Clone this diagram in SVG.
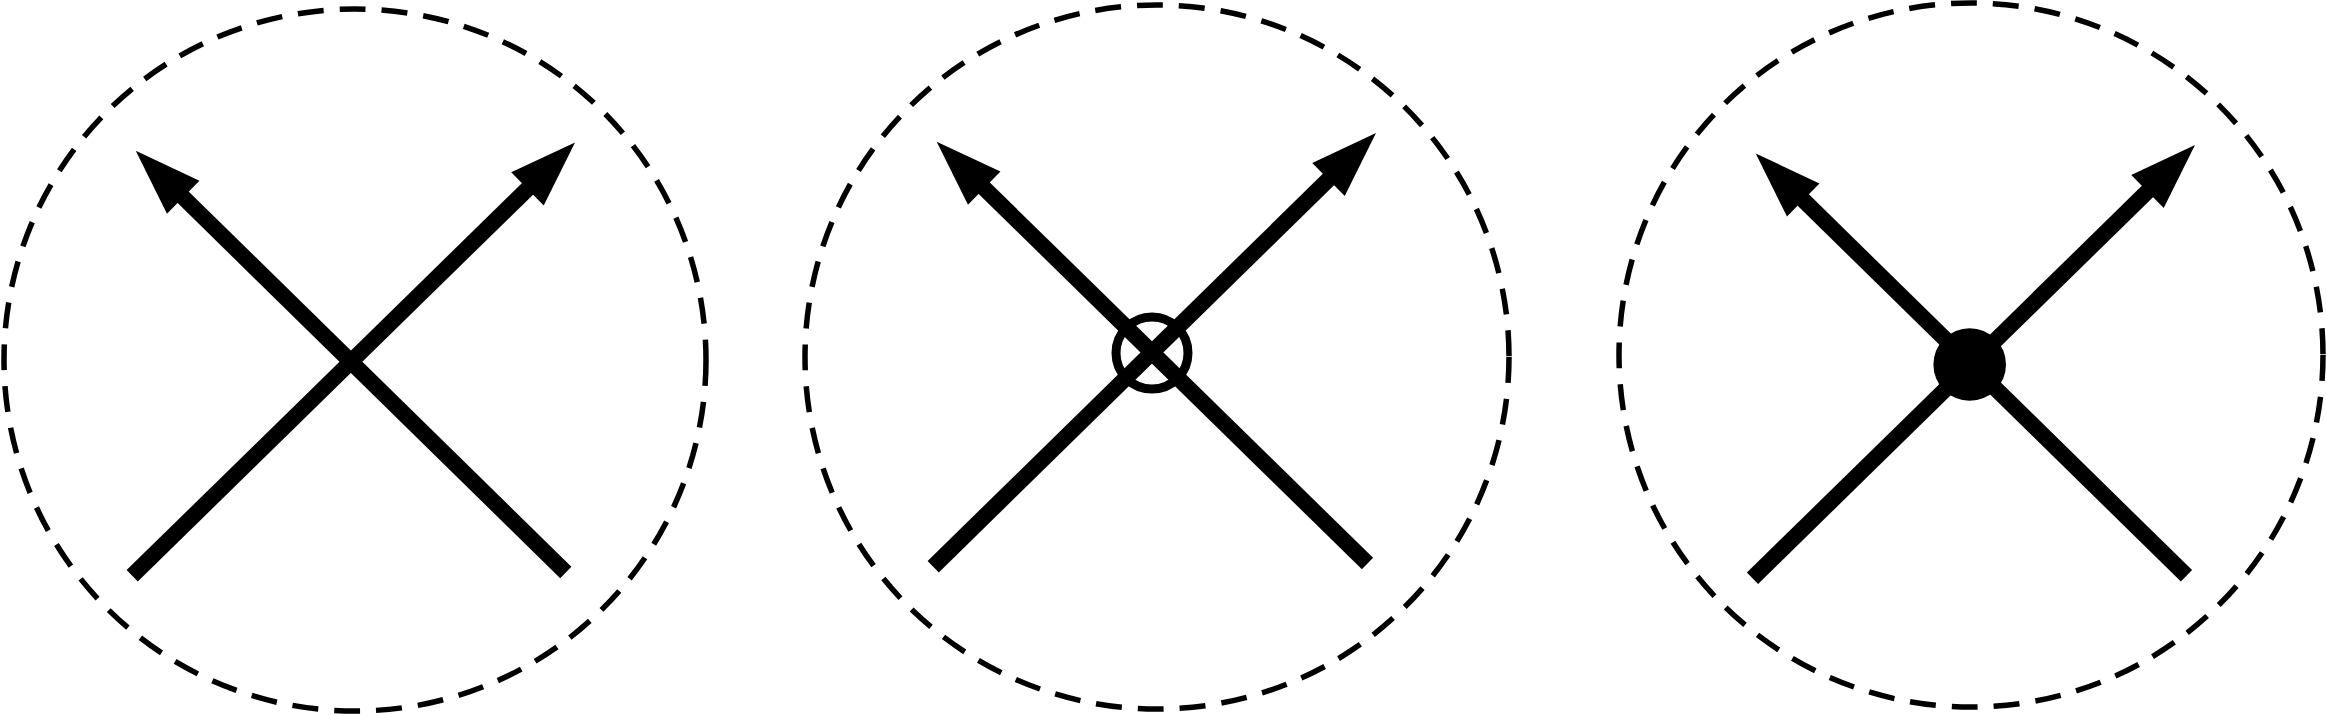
<svg xmlns="http://www.w3.org/2000/svg" width="2326" height="715" viewBox="0 0 2326 715">
  <style>
    .boundary { fill: none; stroke: #000; stroke-width: 5.5; stroke-dasharray: 26 16; }
    .edge { fill: none; stroke: #000; stroke-width: 16; stroke-linecap: butt; marker-end: url(#arrow); }
    .ring { fill: none; stroke: #000; stroke-width: 9; }
    .dot { fill: #000; stroke: none; }
  </style>
  <defs>
    <marker id="arrow" markerUnits="userSpaceOnUse" viewBox="0 0 67 47" markerWidth="67" markerHeight="47" refX="1" refY="23.2" orient="auto" overflow="visible">
      <path d="M0,0 L66.5,23.2 L0,46.4 Z" fill="#000"/>
    </marker>
  </defs>
  <rect x="0" y="0" width="2326" height="715" fill="#fff"/>

  <g id="panel1">
    <circle class="boundary" cx="355" cy="360" r="351"/>
  </g>
  <g id="panel2">
    <circle class="boundary" cx="1157" cy="357" r="352"/>
  </g>
  <g id="panel3">
    <circle class="boundary" cx="1971" cy="355" r="352"/>
  </g>

  <g id="connectors">
    <line class="edge" x1="132.2" y1="575.8" x2="528.2" y2="188.2"/>
    <line class="edge" x1="565.8" y1="572.5" x2="182.5" y2="196.6"/>
    <line class="edge" x1="933.2" y1="566.7" x2="1329.2" y2="178.8"/>
    <line class="edge" x1="1367.5" y1="563.5" x2="983.5" y2="187.5"/>
    <line class="edge" x1="1752.5" y1="578.2" x2="2148.2" y2="190.8"/>
    <line class="edge" x1="2186.5" y1="575.8" x2="1802.5" y2="199.3"/>
  </g>

  <g id="vertex-ring">
    <circle class="ring" cx="1152" cy="353" r="36"/>
  </g>
  <g id="vertex-dot">
    <circle class="dot" cx="1969.7" cy="364.5" r="36.3"/>
  </g>
</svg>
